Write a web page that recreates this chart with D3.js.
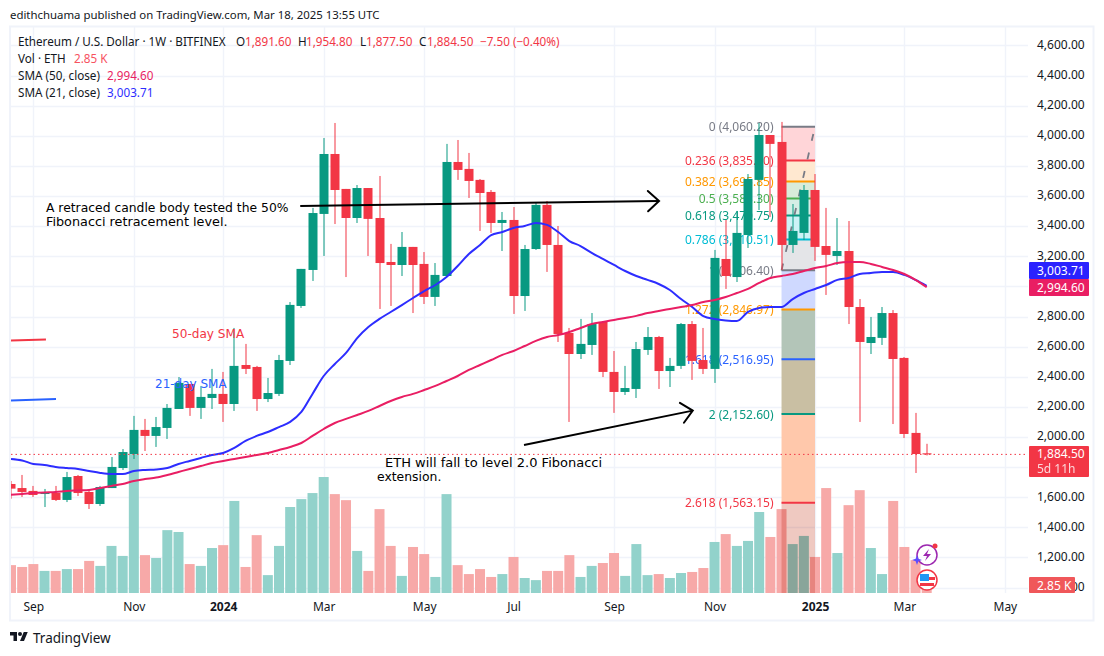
<!DOCTYPE html>
<html lang="en">
<head>
<meta charset="UTF-8">
<title>ETH/USD weekly</title>
<script src="https://d3js.org/d3.v7.min.js"></script>
<style>
  html, body { margin: 0; padding: 0; background: #fff; }
  svg { display: block; }
  text { font-family: "Noto Sans", sans-serif; }
  .note { font-family: "DejaVu Sans", sans-serif; }
</style>
</head>
<body>
<div id="chart"></div>
<script>
// weekly candles
var opens = [1688,1661,1642,1622,1628,1582,1741,1635,1555,1661,
  1794,1887,2047,2007,2060,2186,2352,2193,2259,2286,
  2219,2478,2465,2252,2286,2505,2870,3109,3481,3879,
  3647,3454,3653,3454,3162,3142,3262,3149,2930,3069,
  3826,3780,3707,3627,3421,3441,2936,3248,3541,3275,
  2691,2551,2611,2764,2432,2299,2319,2578,2664,2438,
  2472,2750,2511,2452,3182,3062,3341,3707,4005,3959,
  3275,3355,3640,3268,3202,3235,2863,2624,2658,2823,
  2525,2027,1891.6];
var highs = [1708,1748,1675,1655,1675,1768,1748,1642,1675,1867,
  1920,2140,2120,2133,2219,2398,2352,2339,2452,2432,
  2724,2618,2472,2392,2545,2896,3116,3521,3985,4085,
  3647,3673,3653,3733,3282,3361,3262,3228,3155,3946,
  3972,3886,3713,3640,3494,3527,3275,3554,3567,3401,
  2724,2784,2823,2770,2571,2472,2631,2730,2671,2525,
  2757,2770,2724,3242,3441,3501,3746,4085,4005,4092,
  3547,3673,3746,3521,3454,3434,2916,2797,2863,2843,
  2531,2160,1954.8];
var lows = [1590,1602,1602,1535,1575,1568,1608,1522,1542,1661,
  1781,1854,1907,1934,1987,2186,2140,2120,2186,2100,
  2173,2418,2173,2232,2272,2478,2857,3036,3202,3414,
  3062,3421,3202,2850,2870,3069,2823,2883,2870,3069,
  3707,3587,3368,3355,3235,2817,2837,3242,3096,2631,
  2100,2518,2545,2398,2160,2279,2259,2545,2319,2332,
  2452,2379,2418,2359,2983,3029,3255,3507,3461,3109,
  3222,3308,3169,2943,3142,2750,2100,2551,2611,2086,
  1993,1761,1877.5];
var closes = [1657,1635,1615,1628,1582,1734,1628,1555,1668,1801,
  1900,2047,2007,2066,2193,2359,2193,2266,2286,2219,
  2472,2452,2252,2292,2511,2877,3116,3487,3879,3640,
  3454,3653,3448,3155,3142,3262,3142,2930,3076,3826,
  3773,3700,3620,3421,3441,2936,3248,3541,3275,2684,
  2551,2618,2750,2432,2299,2325,2584,2664,2438,2472,
  2750,2505,2452,3189,3069,3355,3713,4005,3946,3275,
  3368,3640,3262,3209,3235,2863,2631,2664,2823,2518,
  2020,1887,1884.5];
// volume in thousands
var volumes = [10.6,9.9,11,8.4,8.4,9.1,9.1,12.2,10.3,17.9,
  14.1,52.8,14.4,13.3,23.9,23.2,11,10.3,17.1,18.2,
  35,9.9,22,6.8,17.9,32.7,35.7,38,44.1,37.6,
  35.3,16,8.4,31.9,17.9,6.5,17.5,14.8,6.1,37.6,
  10.6,7.2,9.1,6.1,7.2,13.7,5.7,4.9,8.4,8.4,
  14.4,6.1,10.3,11.4,15.2,6.5,18.6,6.8,7.2,5.7,
  7.6,8,9.5,19.4,22.4,17.9,19.8,30.8,21.3,31.9,
  18.6,21.7,13.7,39.9,15.2,33.4,39.1,17.1,7.2,35,
  17.5,12.5,2.85];
var sma21 = [1854,1844,1821,1814,1801,1794,1788,1774,1761,1754,
  1754,1774,1781,1784,1794,1821,1841,1861,1881,1894,
  1927,1974,2007,2033,2066,2100,2166,2286,2405,2485,
  2558,2657,2730,2784,2830,2876,2923,2969,3009,3062,
  3135,3215,3275,3341,3361,3388,3401,3421,3408,3361,
  3301,3268,3222,3182,3142,3102,3069,3043,3016,2976,
  2916,2863,2803,2784,2774,2770,2830,2857,2863,2863,
  2916,2956,2983,3009,3043,3056,3082,3089,3096,3096,
  3076,3043,3003.71];
var sma50 = [1617,1622,1628,1632,1635,1642,1645,1648,1662,1675,
  1688,1708,1721,1731,1748,1768,1788,1807,1827,1841,
  1854,1867,1881,1894,1914,1934,1960,2007,2053,2093,
  2120,2146,2173,2206,2239,2266,2286,2312,2339,2372,
  2405,2445,2478,2511,2545,2571,2604,2638,2664,2677,
  2697,2724,2750,2764,2777,2790,2804,2823,2837,2850,
  2863,2876,2896,2910,2930,2956,2983,3023,3056,3069,
  3082,3102,3122,3135,3155,3162,3162,3149,3129,3109,
  3082,3043,2994.6];

var gridPrices = [4600,4400,4200,4000,3800,3600,3400,3200,3000,2800,2600,2400,2200,2000,1800,1600,1400,1200,1000];
// 3,000 and 1,800 sit behind the value badges, so no label for them
var priceLabels = [4600,4400,4200,4000,3800,3600,3400,3200,2800,2600,2400,2200,2000,1600,1400,1200,1000];
var timeTicks = [2,11,19,28,37,45,54,63,72,80,89];
var timeLabels = ["Sep","Nov","2024","Mar","May","Jul","Sep","Nov","2025","Mar","May"];

var fibRatios = [0,0.236,0.382,0.5,0.618,0.786,1,1.272,1.618,2,2.618];
var fibPrices = [4060.20,3835.10,3695.85,3583.30,3470.75,3310.51,3106.40,2846.97,2516.95,2152.60,1563.15];
var fibStart = 69, fibEnd = 72;

var width = 1104, height = 656;
var paneL = 11, paneR = 1028, paneT = 27, paneB = 593;
var red = "#f23645", green = "#089981", ink = "#131722", gridCol = "#f0f3fa";
var blueSma = "#2d2dff", redSma = "#e91e63";
var fibLineCols = ["#787b86","#f23645","#ff9800","#4caf50","#089981","#00bcd4","#787b86","#ff9800","#2962ff","#089981","#f23645"];
var fibBandCols = ["#ffd5d8","#ffe8d0","#d9ecd9","#d5eee6","#ccf2f6","#e4e5e8","#cfd9ff","#b3c5b8","#c9bfa3","#ffc8ab"];

var x = d3.scaleLinear().domain([0, 82]).range([11, 926.7]);
var y = d3.scaleLinear().domain([1000, 4600]).range([587.6, 45.4]);
var volY = d3.scaleLinear().domain([0, 100]).range([paneB, paneB - 263]);

var svg = d3.select("#chart").append("svg").attr("width", width).attr("height", height);
svg.append("rect").attr("width", width).attr("height", height).attr("fill", "#fff");

svg.append("defs").append("clipPath").attr("id", "pane").append("rect")
  .attr("x", paneL).attr("y", paneT).attr("width", paneR - paneL).attr("height", paneB - paneT);

var bars = d3.range(opens.length);
var pane = svg.append("g").attr("clip-path", "url(#pane)");

// grid
pane.append("g").selectAll("line").data(gridPrices).join("line")
  .attr("x1", paneL).attr("x2", paneR)
  .attr("y1", function(d) { return Math.round(y(d)) + 0.5; })
  .attr("y2", function(d) { return Math.round(y(d)) + 0.5; })
  .attr("stroke", gridCol).attr("stroke-width", 1.4);
pane.append("g").selectAll("line").data(timeTicks).join("line")
  .attr("x1", function(d) { return Math.round(x(d)) + 0.5; })
  .attr("x2", function(d) { return Math.round(x(d)) + 0.5; })
  .attr("y1", paneT).attr("y2", paneB)
  .attr("stroke", gridCol).attr("stroke-width", 1.4);

// volume
pane.append("g").selectAll("rect").data(bars).join("rect")
  .attr("x", function(i) { return x(i) - 5; })
  .attr("width", 10)
  .attr("y", function(i) { return volY(volumes[i]); })
  .attr("height", function(i) { return paneB - volY(volumes[i]); })
  .attr("fill", function(i) { return closes[i] >= opens[i] ? "#92d2cb" : "#f7a9a8"; });

// fib bands
var fib = pane.append("g");
fibBandCols.forEach(function(c, k) {
  fib.append("rect").attr("x", x(fibStart)).attr("width", x(fibEnd) - x(fibStart))
    .attr("y", y(fibPrices[k])).attr("height", y(fibPrices[k + 1]) - y(fibPrices[k]))
    .attr("fill", c);
});
fib.append("rect").attr("x", x(fibStart)).attr("width", x(fibEnd) - x(fibStart))
  .attr("y", y(fibPrices[10])).attr("height", paneB - y(fibPrices[10]))
  .attr("fill", "#efc9c1").style("mix-blend-mode", "multiply");
fibPrices.forEach(function(p, k) {
  fib.append("line").attr("x1", x(fibStart)).attr("x2", x(fibEnd))
    .attr("y1", y(p)).attr("y2", y(p))
    .attr("stroke", fibLineCols[k]).attr("stroke-width", 2);
  fib.append("text").attr("x", x(fibStart) - 8).attr("y", y(p) + 4.5)
    .attr("text-anchor", "end").attr("font-size", 12).attr("fill", fibLineCols[k])
    .text(fibRatios[k] + " (" + d3.format(",.2f")(p) + ")");
});
fib.append("line").attr("x1", x(fibStart)).attr("x2", x(fibEnd))
  .attr("y1", y(fibPrices[6])).attr("y2", y(fibPrices[0]))
  .attr("stroke", "#787b86").attr("stroke-width", 1.8).attr("stroke-dasharray", "7,12");

// candles
var candle = pane.append("g").selectAll("g").data(bars).join("g")
  .attr("fill", function(i) { return closes[i] >= opens[i] ? green : red; });
candle.append("rect")
  .attr("x", function(i) { return Math.round(x(i)) - 0.5; }).attr("width", 1)
  .attr("y", function(i) { return y(highs[i]); })
  .attr("height", function(i) { return y(lows[i]) - y(highs[i]); });
candle.append("rect")
  .attr("x", function(i) { return Math.round(x(i)) - 4.5; }).attr("width", 9)
  .attr("y", function(i) { return y(Math.max(opens[i], closes[i])); })
  .attr("height", function(i) { return Math.max(1, Math.abs(y(opens[i]) - y(closes[i]))); });

// moving averages
var smaLine = function(vals) {
  return d3.line().x(function(d, i) { return x(i); }).y(function(d) { return y(d); }).curve(d3.curveMonotoneX)(vals);
};
pane.append("path").attr("d", smaLine(sma21)).attr("fill", "none").attr("stroke", blueSma).attr("stroke-width", 2);
pane.append("path").attr("d", smaLine(sma50)).attr("fill", "none").attr("stroke", redSma).attr("stroke-width", 2);

// last price line
pane.append("line").attr("x1", paneL).attr("x2", paneR)
  .attr("y1", y(closes[82])).attr("y2", y(closes[82]))
  .attr("stroke", red).attr("stroke-dasharray", "1.5,3");

// drawn lines on the chart
var arrow = function(i0, p0, i1, p1) {
  var x0 = x(i0), y0 = y(p0), x1 = x(i1), y1 = y(p1);
  var a = Math.atan2(y1 - y0, x1 - x0), g = pane.append("g").attr("stroke", "#000").attr("stroke-width", 2).attr("fill", "none");
  g.append("line").attr("x1", x0).attr("y1", y0).attr("x2", x1).attr("y2", y1);
  g.append("path").attr("stroke-linecap", "round").attr("d", "M" + (x1 + 15 * Math.cos(a + 2.4)) + "," + (y1 + 15 * Math.sin(a + 2.4)) +
    "L" + x1 + "," + y1 + "L" + (x1 + 15 * Math.cos(a - 2.4)) + "," + (y1 + 15 * Math.sin(a - 2.4)));
};
arrow(25.9, 3534, 58.03, 3567);
arrow(45.94, 1947, 61.05, 2175);

// stubs of the older drawn lines at the left edge
pane.append("line").attr("x1", x(0)).attr("x2", x(3.13)).attr("y1", y(2641)).attr("y2", y(2648)).attr("stroke", red).attr("stroke-width", 2);
pane.append("line").attr("x1", x(0)).attr("x2", x(4.03)).attr("y1", y(2242)).attr("y2", y(2252)).attr("stroke", "#2962ff").attr("stroke-width", 2);

var note = function(tx, ty, str, col, cls, size) {
  svg.append("text").attr("class", cls).attr("x", tx).attr("y", ty).attr("font-size", size).attr("fill", col).text(str);
};
note(46, 212, "A retraced candle body tested the 50%", "#000", "note", 12.35);
note(46, 226, "Fibonacci retracement level.", "#000", "note", 12.8);
note(385, 466.5, "ETH will fall to level 2.0 Fibonacci", "#000", "note", 13);
note(377, 481, "extension.", "#000", "note", 12.4);
note(172, 338, "50-day SMA", red, "note", 12.1);
note(155, 388, "21-day SMA", "#2962ff", "note", 12);

// axes
var priceAxis = d3.axisRight(y).tickValues(priceLabels).tickSize(0).tickPadding(0).tickFormat(d3.format(",.2f"));
var gy = svg.append("g").attr("transform", "translate(1037,-1)").call(priceAxis);
gy.select(".domain").remove();
gy.selectAll("text").attr("font-size", 12).attr("fill", ink).style("font-family", '"Noto Sans", sans-serif');

var timeAxis = d3.axisBottom(x).tickValues(timeTicks).tickSize(0).tickPadding(0)
  .tickFormat(function(d, k) { return timeLabels[k]; });
var gx = svg.append("g").attr("transform", "translate(0,602)").call(timeAxis);
gx.select(".domain").remove();
gx.selectAll("text").attr("font-size", 12).attr("fill", ink).style("font-family", '"Noto Sans", sans-serif')
  .attr("font-weight", function(d, k) { return timeLabels[k].length == 4 ? 700 : 400; });

// axis badges
var badge = function(by, h, col, bw) {
  svg.append("rect").attr("x", 1029).attr("y", by).attr("width", bw).attr("height", h).attr("rx", 1).attr("fill", col);
};
var badgeText = function(ty, str, op) {
  svg.append("text").attr("x", 1037).attr("y", ty).attr("font-size", 12).attr("fill", "#fff").attr("opacity", op).text(str);
};
badge(262, 17, "#2a22ff", 60);
badgeText(275, d3.format(",.2f")(sma21[82]), 1);
badge(279, 17, redSma, 60);
badgeText(292, d3.format(",.2f")(sma50[82]), 1);
badge(446, 31, red, 60);
badgeText(458, d3.format(",.2f")(closes[82]), 1);
badgeText(472.5, "5d 11h", 0.8);
badge(577, 16, "#f0575a", 46);
badgeText(590, "2.85 K", 1);

// frame
svg.append("rect").attr("x", 10).attr("y", 26.5).attr("width", 1083.5).attr("height", 594)
  .attr("fill", "none").attr("stroke", gridCol).attr("stroke-width", 2);

// header
note(10, 19, "edithchuama published on TradingView.com, Mar 18, 2025 13:55 UTC", ink, "head", 11.4);

var legend = function(ly, parts) {
  parts.forEach(function(p) {
    svg.append("text").attr("x", p[0]).attr("y", ly).attr("font-size", 11.7).attr("fill", p[2]).text(p[1]);
  });
};
legend(46, [[18, "Ethereum / U.S. Dollar · 1W · BITFINEX", ink], [236, "O", ink], [245, "1,891.60", red],
  [298, "H", ink], [306, "1,954.80", red], [360, "L", ink], [366, "1,877.50", red],
  [419, "C", ink], [427, "1,884.50", red], [480, "−7.50 (−0.40%)", red]]);
legend(63, [[18, "Vol · ETH", ink], [74, "2.85 K", "#f7525f"]]);
legend(80, [[18, "SMA (50, close)", ink], [107, "2,994.60", redSma]]);
legend(97, [[18, "SMA (21, close)", ink], [107, "3,003.71", blueSma]]);

// TradingView mark
var logo = svg.append("g").attr("transform", "translate(10,630) scale(0.5)").attr("fill", ink);
logo.append("path").attr("d", "M14 22H7V11H0V4h14v18zM28 22h-8l7.5-18h8L28 22z");
logo.append("circle").attr("cx", 20).attr("cy", 8).attr("r", 4);
svg.append("text").attr("x", 33).attr("y", 643).attr("font-size", 13.5).attr("fill", ink).text("TradingView");

// the two small round badges at the end of the volume bars
var bolt = svg.append("g").attr("transform", "translate(927,555)");
bolt.append("circle").attr("r", 10).attr("fill", "#fff").attr("fill-opacity", 0.5).attr("stroke", "#9c27b0").attr("stroke-width", 1.5);
bolt.append("path").attr("d", "M2,-6L-4,1H0L-2,6L4,-1H0Z").attr("fill", "#9c27b0");
bolt.append("circle").attr("cx", 8).attr("cy", -9).attr("r", 2.5).attr("fill", red);
bolt.append("path").attr("d", "M-10,0L-8.7,3.7L-5,5L-8.7,6.3L-10,10L-11.3,6.3L-15,5L-11.3,3.7Z").attr("fill", "#5c4dff");
var flag = svg.append("g").attr("transform", "translate(927,580)");
flag.append("circle").attr("r", 10).attr("fill", "#fff").attr("stroke", red).attr("stroke-width", 1.5);
flag.append("rect").attr("x", -7).attr("y", -6).attr("width", 9).attr("height", 7).attr("fill", "#2196f3");
flag.append("rect").attr("x", 2).attr("y", -3).attr("width", 6).attr("height", 3).attr("fill", red);
flag.append("rect").attr("x", -7).attr("y", 3).attr("width", 14).attr("height", 3).attr("fill", red);
</script>
</body>
</html>
